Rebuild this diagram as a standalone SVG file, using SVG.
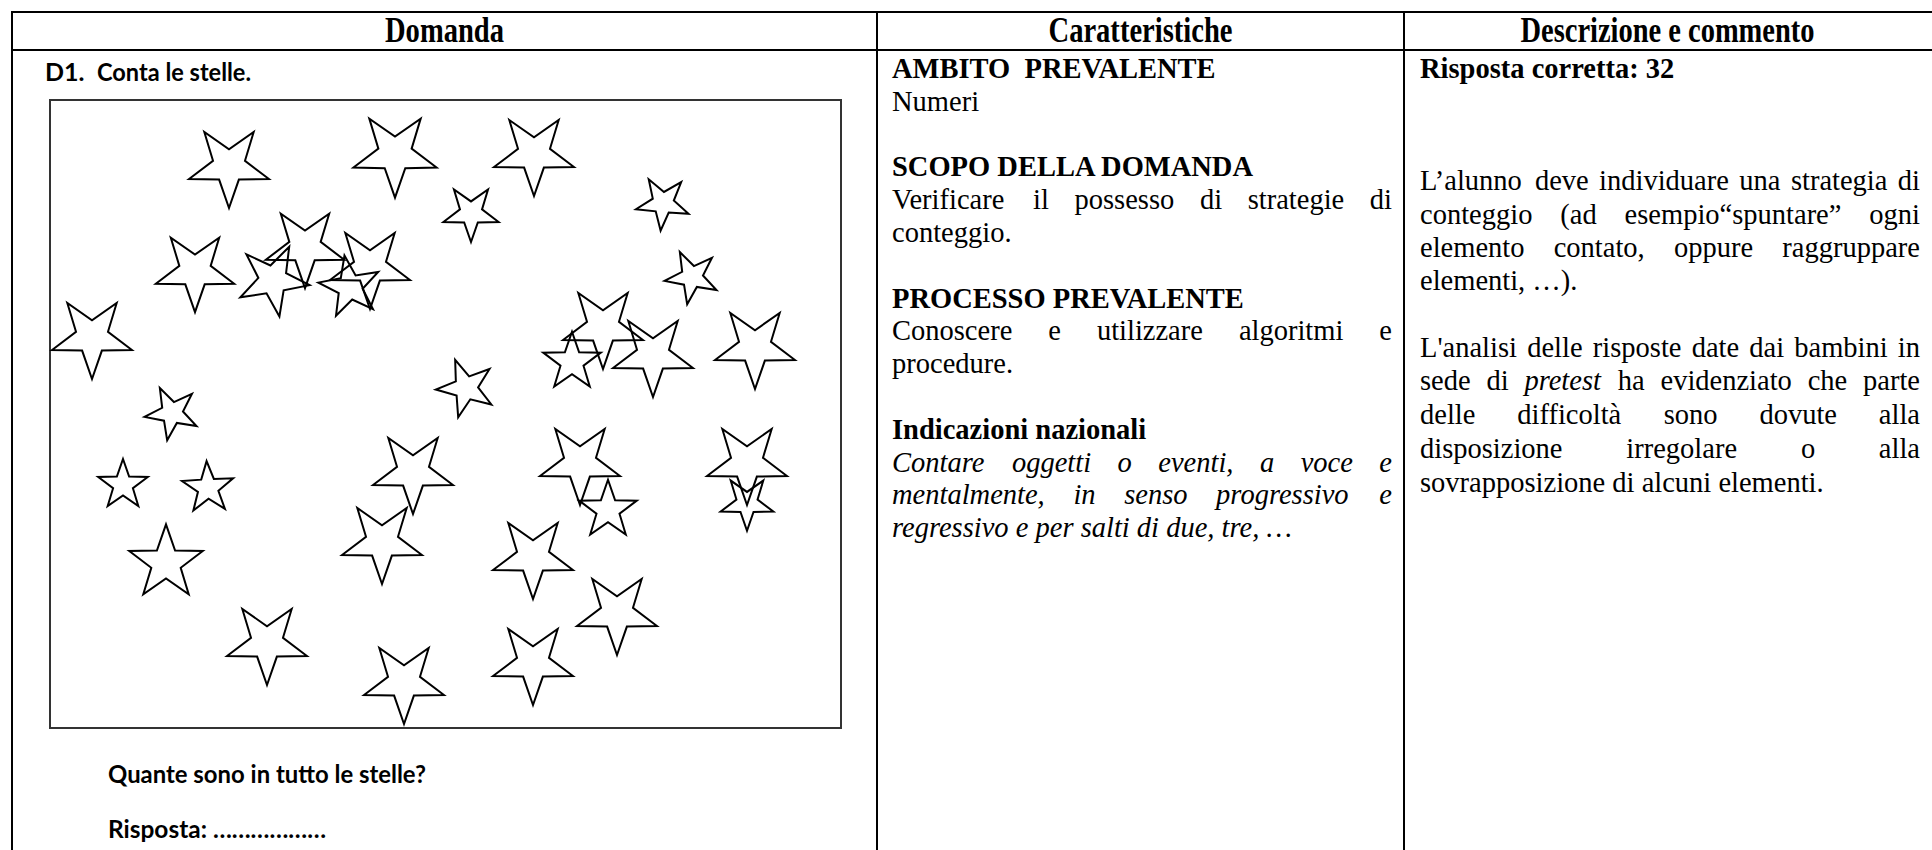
<svg xmlns="http://www.w3.org/2000/svg" width="1932" height="850" viewBox="0 0 1932 850">
<style>
.grid{stroke:#000;stroke-width:2;fill:none}
.h{font-family:"Liberation Serif","Times New Roman",serif;font-weight:bold;font-size:36px;fill:#000}
.t{font-family:"Liberation Serif","Times New Roman",serif;font-size:28.5px;fill:#000}
.b{font-weight:bold}
.i{font-style:italic}
.c{font-family:Lato,"Open Sans",sans-serif;font-weight:bold;font-size:25px;fill:#000}
.box{fill:#fff;stroke:#333;stroke-width:2}
.st{fill:none;stroke:#000;stroke-width:2}
</style>
<defs>
<path id="star" vector-effect="non-scaling-stroke" d="M0,42 L-9.88,13.59 L-39.95,12.98 L-15.98,-5.19 L-24.69,-33.98 L0,-16.8 L24.69,-33.98 L15.98,-5.19 L39.95,12.98 L9.88,13.59 Z"/>
</defs>
<rect x="0" y="0" width="1932" height="850" fill="#fff"/>

<g id="table" class="grid">
<line x1="11" y1="12" x2="1932" y2="12"/>
<line x1="11" y1="50" x2="1932" y2="50"/>
<line x1="12" y1="11" x2="12" y2="850"/>
<line x1="877" y1="11" x2="877" y2="850"/>
<line x1="1404" y1="11" x2="1404" y2="850"/>
</g>

<g id="header-domanda"><text class="h" x="444.5" y="42" text-anchor="middle" textLength="119" lengthAdjust="spacingAndGlyphs">Domanda</text></g>
<g id="header-caratteristiche"><text class="h" x="1140.5" y="42" text-anchor="middle" textLength="184" lengthAdjust="spacingAndGlyphs">Caratteristiche</text></g>
<g id="header-descrizione"><text class="h" x="1667.5" y="42" text-anchor="middle" textLength="294" lengthAdjust="spacingAndGlyphs">Descrizione e commento</text></g>

<g id="domanda">
<text class="c" x="45" y="81">D1.</text>
<text class="c" x="97" y="81" textLength="154" lengthAdjust="spacingAndGlyphs">Conta le stelle.</text>
<rect class="box" x="50" y="100" width="791" height="628"/>
<g id="stars" class="st">
<use href="#star" transform="translate(229,166)"/>
<use href="#star" transform="translate(395,154) scale(1.04)"/>
<use href="#star" transform="translate(471,213) scale(0.69)"/>
<use href="#star" transform="translate(195,271) scale(0.98)"/>
<use href="#star" transform="translate(305,247) scale(0.98)"/>
<use href="#star" transform="translate(273,280) rotate(-10) scale(0.88)"/>
<use href="#star" transform="translate(370,267)"/>
<use href="#star" transform="translate(350,287) rotate(170) scale(0.76)"/>
<use href="#star" transform="translate(92,337)"/>
<use href="#star" transform="translate(172,413) rotate(10) scale(0.66)"/>
<use href="#star" transform="translate(534,154)"/>
<use href="#star" transform="translate(663,203) rotate(5) scale(0.66)"/>
<use href="#star" transform="translate(692,277) rotate(10) scale(0.66)"/>
<use href="#star" transform="translate(603,327)"/>
<use href="#star" transform="translate(572,362) rotate(180) scale(0.72)"/>
<use href="#star" transform="translate(653,355)"/>
<use href="#star" transform="translate(755,347)"/>
<use href="#star" transform="translate(466,388) rotate(15) scale(0.72)"/>
<use href="#star" transform="translate(123,485) rotate(180) scale(0.62)"/>
<use href="#star" transform="translate(208,488) rotate(177) scale(0.64)"/>
<use href="#star" transform="translate(166,563) rotate(180) scale(0.92)"/>
<use href="#star" transform="translate(267,643)"/>
<use href="#star" transform="translate(413,472)"/>
<use href="#star" transform="translate(382,542)"/>
<use href="#star" transform="translate(404,682)"/>
<use href="#star" transform="translate(580,463)"/>
<use href="#star" transform="translate(608,510) rotate(180) scale(0.72)"/>
<use href="#star" transform="translate(747,463)"/>
<use href="#star" transform="translate(747,503) scale(0.66)"/>
<use href="#star" transform="translate(533,557)"/>
<use href="#star" transform="translate(617,613)"/>
<use href="#star" transform="translate(533,663)"/>
</g>
<text class="c" x="108" y="783" textLength="318" lengthAdjust="spacingAndGlyphs">Quante sono in tutto le stelle?</text>
<text class="c" x="108" y="838" textLength="218" lengthAdjust="spacingAndGlyphs">Risposta: ………………</text>
</g>

<g id="caratteristiche" class="t">
<text class="b" x="892" y="78">AMBITO&#160; PREVALENTE</text>
<text x="892" y="110.8">Numeri</text>
<text class="b" x="892" y="176.4">SCOPO DELLA DOMANDA</text>
<text y="209.2"><tspan x="892">Verificare</tspan><tspan x="1033.1">il</tspan><tspan x="1074.5">possesso</tspan><tspan x="1199.9">di</tspan><tspan x="1247.7">strategie</tspan></text>
<text x="1392" y="209.2" text-anchor="end">di</text>
<text x="892" y="242">conteggio.</text>
<text class="b" x="892" y="307.6">PROCESSO PREVALENTE</text>
<text y="340.4"><tspan x="892">Conoscere</tspan><tspan x="1048.3">e</tspan><tspan x="1096.9">utilizzare</tspan><tspan x="1238.9">algoritmi</tspan></text>
<text x="1392" y="340.4" text-anchor="end">e</text>
<text x="892" y="373.2">procedure.</text>
<text class="b" x="892" y="438.8">Indicazioni nazionali</text>
<text class="i" y="471.6"><tspan x="892">Contare</tspan><tspan x="1011.9">oggetti</tspan><tspan x="1117.6">o</tspan><tspan x="1158.3">eventi,</tspan><tspan x="1260">a</tspan><tspan x="1300.7">voce</tspan></text>
<text class="i" x="1392" y="471.6" text-anchor="end">e</text>
<text class="i" y="504.4"><tspan x="892">mentalmente,</tspan><tspan x="1073.4">in</tspan><tspan x="1124.2">senso</tspan><tspan x="1216.1">progressivo</tspan></text>
<text class="i" x="1392" y="504.4" text-anchor="end">e</text>
<text class="i" x="892" y="537.2">regressivo e per salti di due, tre, …</text>
</g>

<g id="descrizione" class="t">
<text class="b" x="1420" y="78">Risposta corretta: 32</text>
<text y="190"><tspan x="1420">L’alunno</tspan><tspan x="1534.9">deve</tspan><tspan x="1599.1">individuare</tspan><tspan x="1739.3">una</tspan><tspan x="1790.9">strategia</tspan></text>
<text x="1920" y="190" text-anchor="end">di</text>
<text y="224"><tspan x="1420">conteggio</tspan><tspan x="1560.3">(ad</tspan><tspan x="1624.6">esempio“spuntare”</tspan></text>
<text x="1920" y="224" text-anchor="end">ogni</text>
<text y="257"><tspan x="1420">elemento</tspan><tspan x="1553.7">contato,</tspan><tspan x="1673.9">oppure</tspan></text>
<text x="1920" y="257" text-anchor="end">raggruppare</text>
<text x="1420" y="290">elementi, …).</text>
<text y="357"><tspan x="1420">L'analisi</tspan><tspan x="1527.2">delle</tspan><tspan x="1592.8">risposte</tspan><tspan x="1691.7">date</tspan><tspan x="1749.3">dai</tspan><tspan x="1794.3">bambini</tspan></text>
<text x="1920" y="357" text-anchor="end">in</text>
<text y="390"><tspan x="1420">sede</tspan><tspan x="1486.4">di</tspan><tspan x="1524.4" class="i">pretest</tspan><tspan x="1617.8">ha</tspan><tspan x="1660.5">evidenziato</tspan><tspan x="1807.7">che</tspan></text>
<text x="1920" y="390" text-anchor="end">parte</text>
<text y="424"><tspan x="1420">delle</tspan><tspan x="1517.3">difficoltà</tspan><tspan x="1663.7">sono</tspan><tspan x="1759.4">dovute</tspan></text>
<text x="1920" y="424" text-anchor="end">alla</text>
<text y="458"><tspan x="1420">disposizione</tspan><tspan x="1626.3">irregolare</tspan><tspan x="1800.9">o</tspan></text>
<text x="1920" y="458" text-anchor="end">alla</text>
<text x="1420" y="492">sovrapposizione di alcuni elementi.</text>
</g>
</svg>
